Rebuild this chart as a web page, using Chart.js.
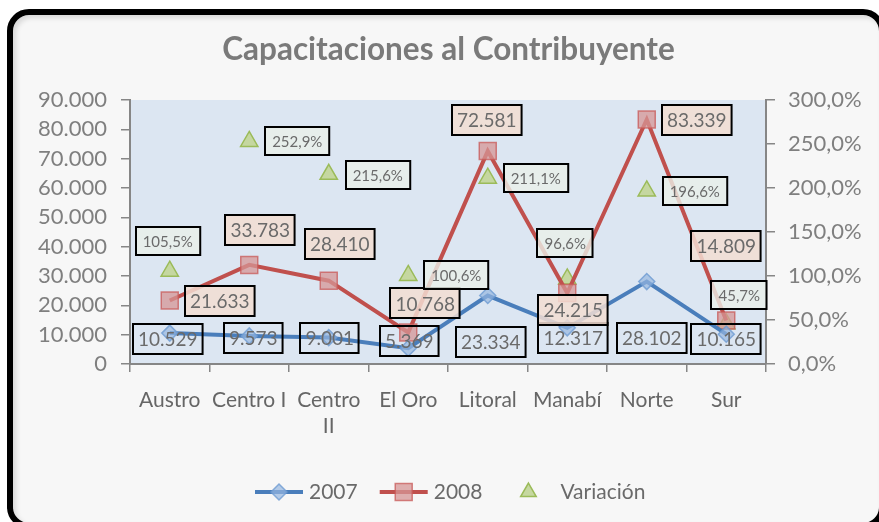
<!DOCTYPE html>
<html>
<head>
<meta charset="utf-8">
<script src="https://cdn.jsdelivr.net/npm/chart.js@4.4.1/dist/chart.umd.min.js"></script>
<style>
  html, body { margin: 0; padding: 0; background: #fff; overflow: hidden; }
  #marco {
    position: absolute; left: 7px; top: 9px; width: 878px; height: 520px;
    box-sizing: border-box; border: 6px solid #000; border-radius: 22px;
    background: #f7f7f7; box-shadow: inset 3px 3px 5px rgba(0,0,0,0.12);
  }
  #lienzo { position: absolute; left: 0; top: 0; }
</style>
</head>
<body>
<div id="marco"></div>
<canvas id="lienzo" width="879" height="522"></canvas>
<script>
const regiones = ['Austro', 'Centro I', ['Centro', 'II'], 'El Oro', 'Litoral', 'Manabí', 'Norte', 'Sur'];
const datos2007 = [10529, 9573, 9001, 5369, 23334, 12317, 28102, 10165];
const datos2008 = [21633, 33783, 28410, 10768, 72581, 24215, 83339, 14809];
const variacion = [105.5, 252.9, 215.6, 100.6, 211.1, 96.6, 196.6, 45.7];
const ticksCantidad = [0, 10000, 20000, 30000, 40000, 50000, 60000, 70000, 80000, 90000];
const ticksPorcentaje = [0, 50, 100, 150, 200, 250, 300];

// desplazamiento de cada etiqueta respecto a su punto (px)
const desp2007 = [[-2, 6], [4, 2], [1, 0], [1, -7], [3, 46], [6, 10], [5, 56], [0, 5]];
const desp2008 = [[50, 0], [11, -35], [11, -37], [17, -29], [-1, -31], [6, 17], [50, 0], [0, -75]];
const despVar = [[-2, -30], [48, 0], [49, 1], [48, 0], [48, 0], [-2, -36], [48, 0], [13, -29]];

const FUENTE = 'Lato, "Open Sans", sans-serif';
const GRIS_EJE = '#868686';

function miles(v) {
    return String(Math.round(v)).replace(/\B(?=(\d{3})+(?!\d))/g, '.');
}
function pct(v) {
    return v.toFixed(1).replace('.', ',') + '%';
}

const estilosEtiqueta = [
    { shift: desp2007, format: miles, font: '19px ' + FUENTE, padX: 5, h: 30, fill: null, color: '#6a6a6a' },
    { shift: desp2008, format: miles, font: '19px ' + FUENTE, padX: 5, h: 30, fill: 'rgba(242,221,210,0.85)', color: '#6a6a6a' },
    { shift: despVar, format: pct, font: '15px ' + FUENTE, padX: 7, h: 28, fill: 'rgba(234,240,232,0.8)', color: '#6a6a6a' }
];

const fondoGrafico = {
    id: 'fondoGrafico',
    beforeDraw(chart) {
        const a = chart.chartArea;
        chart.ctx.save();
        chart.ctx.fillStyle = '#dce6f2';
        chart.ctx.fillRect(a.left, a.top, a.right - a.left, a.bottom - a.top);
        chart.ctx.restore();
    }
};

const etiquetas = {
    id: 'etiquetas',
    afterDatasetsDraw(chart) {
        const ctx = chart.ctx;
        chart.data.datasets.forEach((ds, i) => {
            const meta = chart.getDatasetMeta(i);
            const cfg = estilosEtiqueta[i];
            ctx.save();
            ctx.font = cfg.font;
            meta.data.forEach((pt, j) => {
                const txt = cfg.format(ds.data[j]);
                const cx = pt.x + cfg.shift[j][0];
                const cy = pt.y + cfg.shift[j][1];
                const w = ctx.measureText(txt).width + cfg.padX * 2;
                const x = Math.round(cx - w / 2), y = Math.round(cy - cfg.h / 2);
                if (cfg.fill) {
                    ctx.fillStyle = cfg.fill;
                    ctx.fillRect(x, y, w, cfg.h);
                }
                ctx.lineWidth = 2;
                ctx.strokeStyle = '#000';
                ctx.strokeRect(x, y, w, cfg.h);
                ctx.fillStyle = cfg.color;
                ctx.textAlign = 'center';
                ctx.textBaseline = 'middle';
                ctx.fillText(txt, cx, cy + 1);
            });
            ctx.restore();
        });
    }
};

// leyenda con línea + marcador, como en Excel
const leyenda = {
    id: 'leyenda',
    afterDraw(chart) {
        const ctx = chart.ctx;
        const y = 492;
        let x = 255;
        ctx.save();
        ctx.font = '21px ' + FUENTE;
        ctx.textBaseline = 'middle';
        chart.data.datasets.forEach(ds => {
            const conLinea = ds.showLine !== false;
            if (conLinea) {
                ctx.strokeStyle = ds.borderColor;
                ctx.lineWidth = ds.borderWidth;
                ctx.beginPath();
                ctx.moveTo(x, y);
                ctx.lineTo(x + 48, y);
                ctx.stroke();
            }
            ctx.fillStyle = ds.pointBackgroundColor;
            ctx.strokeStyle = ds.pointBorderColor;
            ctx.lineWidth = ds.pointBorderWidth;
            Chart.helpers.drawPoint(ctx, {
                pointStyle: ds.pointStyle, radius: ds.legendRadius,
                borderWidth: ds.pointBorderWidth, rotation: 0
            }, x + 24, y);
            const tx = x + (conLinea ? 54 : 56);
            ctx.fillStyle = '#6a6a6a';
            ctx.fillText(ds.label, tx, y);
            x = tx + ctx.measureText(ds.label).width + 22;
        });
        ctx.restore();
    }
};

Chart.defaults.font.family = FUENTE;
Chart.defaults.color = '#7a7a7a';

new Chart(document.getElementById('lienzo'), {
    type: 'line',
    data: {
        labels: regiones,
        datasets: [{
            label: '2007',
            data: datos2007,
            yAxisID: 'y',
            borderColor: '#4a7ebb',
            borderWidth: 4,
            pointStyle: 'rectRot',
            pointRadius: 8,
            legendRadius: 8,
            pointBackgroundColor: 'rgba(150,183,224,0.7)',
            pointBorderColor: 'rgba(110,155,210,0.8)',
            pointBorderWidth: 1.5,
            tension: 0
        }, {
            label: '2008',
            data: datos2008,
            yAxisID: 'y',
            borderColor: '#c0504d',
            borderWidth: 4,
            pointStyle: 'rect',
            pointRadius: 12,
            legendRadius: 12,
            pointBackgroundColor: 'rgba(214,150,150,0.75)',
            pointBorderColor: 'rgba(200,90,88,0.75)',
            pointBorderWidth: 1.5,
            tension: 0
        }, {
            label: 'Variación',
            data: variacion,
            yAxisID: 'y1',
            showLine: false,
            borderColor: '#9bbb59',
            borderWidth: 0,
            pointStyle: 'triangle',
            pointRadius: 10,
            legendRadius: 9,
            pointBackgroundColor: 'rgba(195,214,155,0.95)',
            pointBorderColor: '#9bbb59',
            pointBorderWidth: 1.5
        }]
    },
    options: {
        responsive: false,
        animation: false,
        layout: { padding: { top: 26, left: 20, right: 2, bottom: 0 } },
        plugins: {
            legend: { display: false },
            tooltip: { enabled: false },
            title: {
                display: true,
                text: 'Capacitaciones al Contribuyente',
                color: '#7a7a7a',
                font: { size: 31.5, weight: 'bold', lineHeight: 1.2 },
                padding: { top: 5, bottom: 31.2 }
            }
        },
        scales: {
            x: {
                offset: true,
                grid: { offset: true, drawOnChartArea: false, drawTicks: true, tickLength: 8, color: GRIS_EJE, lineWidth: 1.5 },
                border: { display: true, color: GRIS_EJE, width: 2 },
                ticks: { color: '#666', font: { size: 21 }, padding: 16, maxRotation: 0, autoSkip: false },
                afterFit(scale) { scale.height = 158; }
            },
            y: {
                position: 'left',
                min: 0, max: 90000,
                afterBuildTicks(scale) { scale.ticks = ticksCantidad.map(v => ({ value: v })); },
                grid: { drawOnChartArea: false, drawTicks: true, tickLength: 9, color: GRIS_EJE, lineWidth: 1.5 },
                border: { display: true, color: GRIS_EJE, width: 2 },
                ticks: { color: '#7f7f7f', font: { size: 22 }, padding: 14, autoSkip: false, callback: v => miles(v) },
                afterFit(scale) { scale.width = 110; }
            },
            y1: {
                position: 'right',
                min: 0, max: 300,
                afterBuildTicks(scale) { scale.ticks = ticksPorcentaje.map(v => ({ value: v })); },
                grid: { drawOnChartArea: false, drawTicks: true, tickLength: 9, color: GRIS_EJE, lineWidth: 1.5 },
                border: { display: true, color: GRIS_EJE, width: 2 },
                ticks: { color: '#7f7f7f', font: { size: 22 }, padding: 13, autoSkip: false, callback: v => pct(v) },
                afterFit(scale) { scale.width = 111; }
            }
        }
    },
    plugins: [fondoGrafico, etiquetas, leyenda]
});
</script>
</body>
</html>
